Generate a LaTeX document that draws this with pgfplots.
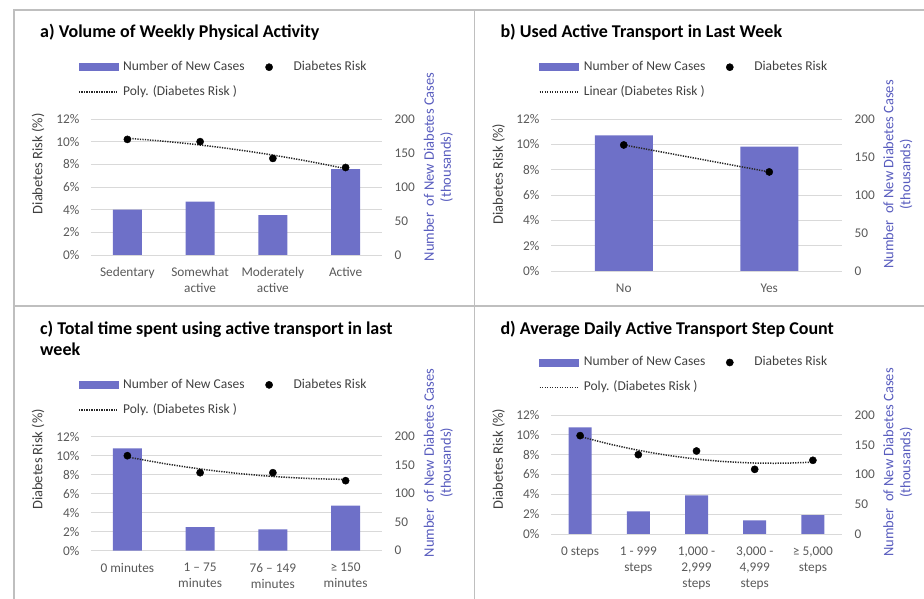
\documentclass[border=0pt]{standalone}
\usepackage{pgfplots}
\pgfplotsset{compat=1.18}
\usepackage{fontspec}
\setmainfont{Carlito}
\definecolor{barc}{RGB}{110,112,200}
\definecolor{rlab}{RGB}{88,92,190}
\definecolor{tickc}{RGB}{89,89,89}
\definecolor{labc}{RGB}{64,64,64}
\definecolor{gridc}{RGB}{217,217,217}
\definecolor{framec}{RGB}{191,191,191}
\definecolor{trendc}{RGB}{40,40,40}
\pgfplotsset{
  base/.style={scale only axis, width=291pt, axis line style={draw=none}, major tick length=0pt,
    xmin=-0.5, /pgf/number format/assume math mode=true,
    tick label style={font=\fontsize{13.3}{16}\selectfont, text=tickc},
    label style={font=\fontsize{14.5}{17}\selectfont},
    clip=false},
  leftax/.style={base, ymin=0, ymax=12, ytick={0,2,...,12},
    yticklabel={\pgfmathprintnumber{\tick}\%},
    ymajorgrids, grid style={gridc, line width=0.9pt},
    yticklabel style={xshift=-8pt},
    xticklabel style={align=center, anchor=north, yshift=-9pt},
    ylabel={Diabetes Risk (\%)}, ylabel style={text=labc, anchor=center}},
  rightax/.style={base, axis y line*=right, axis x line=none, xtick=\empty,
    ymin=0, ymax=200, ytick={0,50,...,200},
    yticklabel style={xshift=9pt},
    ylabel={Number\ \ of New Diabetes Cases\\(thousands)},
    ylabel style={align=center, text=rlab, anchor=center}},
  overax/.style={base, hide axis, ymin=0, ymax=12, legend columns=2, legend cell align=left,
    legend style={draw=none, fill=none, inner sep=0pt, anchor=north west, row sep=12.5pt,
      font=\fontsize{13.5}{16}\selectfont, text=labc,
      nodes={inner sep=0pt, text height=9.5pt, text depth=3pt},
      /tikz/every odd column/.append style={column sep=5pt},
      /tikz/every even column/.append style={column sep=5pt}}},
  bars/.style={ybar, fill=barc, draw=none},
  barleg/.style={legend image code/.code={\fill[barc] (0pt,-3.5pt) rectangle (39pt,3.5pt);}},
  dots/.style={only marks, mark=*, mark size=3.6pt, color=black, mark options={fill=black}},
  dotleg/.style={legend image code/.code={\path[draw=none,fill=none] (0pt,-0.1pt) rectangle (39pt,0.1pt); \fill[black] (19.5pt,0pt) circle (3.6pt);}},
  trend/.style={smooth, color=trendc, line width=1.5pt, dash pattern=on 1.3pt off 1.2pt},
  trendleg/.style={legend image code/.code={\draw[trendc, line width=1.5pt, dash pattern=on 1.3pt off 1.2pt] (0pt,0pt) -- (38pt,0pt);}},
}
\begin{document}
\begin{tikzpicture}
\path[use as bounding box] (0pt,0pt) rectangle (924pt,599pt);
\draw[framec, line width=1.3pt] (14pt,0pt) -- (14pt,589pt) -- (924pt,589pt);
\draw[framec, line width=1.3pt] (474.3pt,0pt) -- (474.3pt,589pt);
\draw[framec, line width=1.3pt] (14pt,293pt) -- (924pt,293pt);
\begin{scope}[every node/.style={anchor=base west, inner sep=0pt, font=\bfseries\fontsize{18}{22}\selectfont}]
\node at (40pt,561.3pt) {a) Volume of Weekly Physical Activity};
\node at (500.3pt,561.3pt) {b) Used Active Transport in Last Week};
\node at (40pt,264.7pt) {c) Total time spent using active transport in last};
\node at (40pt,243pt) {week};
\node at (500.3pt,264.7pt) {d) Average Daily Active Transport Step Count};
\end{scope}

% ---------- panel a ----------
\begin{axis}[leftax, at={(91pt,344pt)}, anchor=south west, height=136pt, xmax=3.5,
  xtick={0,1,2,3}, xticklabels={Sedentary,{Somewhat\\active},{Moderately\\active},Active},
  ylabel style={at={(axis description cs:-0.182,0.67)}}]
\end{axis}
\begin{axis}[rightax, at={(91pt,344pt)}, anchor=south west, height=136pt, xmax=3.5,
  ylabel style={at={(axis description cs:1.194,0.647)}}]
\addplot[bars, bar width=29pt] coordinates {(0,66.8) (1,78.6) (2,58.5) (3,126.3)};
\end{axis}
\begin{axis}[overax, at={(91pt,344pt)}, anchor=south west, height=136pt, xmax=3.5,
  legend style={at={(axis description cs:-0.0447,1.4283)}}]
\addlegendimage{barleg}\addlegendentry{Number of New Cases}
\addlegendimage{dotleg}\addlegendentry{Diabetes Risk}
\addlegendimage{trendleg}\addlegendentry{Poly. (Diabetes Risk )}
\addplot[trend, forget plot] coordinates {(0,10.298) (0.5,10.04) (1,9.706) (1.5,9.298) (2,8.814) (2.5,8.256) (3,7.622)};
\addplot[dots, forget plot] coordinates {(0,10.2) (1,10.0) (2,8.52) (3,7.72)};
\end{axis}

% ---------- panel b ----------
\begin{axis}[leftax, at={(551pt,328pt)}, anchor=south west, height=152pt, xmax=1.5,
  xtick={0,1}, xticklabels={No,Yes},
  ylabel style={at={(axis description cs:-0.18,0.638)}}]
\end{axis}
\begin{axis}[rightax, at={(551pt,328pt)}, anchor=south west, height=152pt, xmax=1.5,
  ylabel style={at={(axis description cs:1.192,0.635)}}]
\addplot[bars, bar width=58pt] coordinates {(0,178.5) (1,163.6)};
\end{axis}
\begin{axis}[overax, at={(551pt,328pt)}, anchor=south west, height=152pt, xmax=1.5,
  legend style={at={(axis description cs:-0.0423,1.3832)}}]
\addlegendimage{barleg}\addlegendentry{Number of New Cases}
\addlegendimage{dotleg}\addlegendentry{Diabetes Risk}
\addlegendimage{trendleg}\addlegendentry{Linear (Diabetes Risk )}
\addplot[trend, forget plot] coordinates {(0,9.95) (1,7.82)};
\addplot[dots, forget plot] coordinates {(0,9.95) (1,7.82)};
\end{axis}

% ---------- panel c ----------
\begin{axis}[leftax, at={(91pt,48.3pt)}, anchor=south west, height=114pt, xmax=3.5,
  xtick={0,1,2,3}, xticklabels={{0 minutes},{1 – 75\\minutes},{76 – 149\\minutes},{≥ 150\\minutes}},
  ylabel style={at={(axis description cs:-0.182,0.80)}}]
\end{axis}
\begin{axis}[rightax, at={(91pt,48.3pt)}, anchor=south west, height=114pt, xmax=3.5,
  ylabel style={at={(axis description cs:1.194,0.77)}}]
\addplot[bars, bar width=29pt] coordinates {(0,179.5) (1,41.5) (2,37.4) (3,78.9)};
\end{axis}
\begin{axis}[overax, at={(91pt,48.3pt)}, anchor=south west, height=114pt, xmax=3.5,
  legend style={at={(axis description cs:-0.0447,1.511)}}]
\addlegendimage{barleg}\addlegendentry{Number of New Cases}
\addlegendimage{dotleg}\addlegendentry{Diabetes Risk}
\addlegendimage{trendleg}\addlegendentry{Poly. (Diabetes Risk )}
\addplot[trend, forget plot] coordinates {(0,9.869) (0.5,9.177) (1,8.605) (1.5,8.151) (2,7.816) (2.5,7.599) (3,7.502)};
\addplot[dots, forget plot] coordinates {(0,10.0) (1,8.21) (2,8.21) (3,7.37)};
\end{axis}

% ---------- panel d ----------
\begin{axis}[leftax, at={(551pt,65pt)}, anchor=south west, height=119pt, xmax=4.5,
  xtick={0,1,2,3,4}, xticklabels={{0 steps},{1 - 999\\steps},{1,000 -\\2,999\\steps},{3,000 -\\4,999\\steps},{≥ 5,000\\steps}},
  ylabel style={at={(axis description cs:-0.18,0.63)}}]
\end{axis}
\begin{axis}[rightax, at={(551pt,65pt)}, anchor=south west, height=119pt, xmax=4.5,
  ylabel style={at={(axis description cs:1.192,0.60)}}]
\addplot[bars, bar width=23pt] coordinates {(0,179.3) (1,38.1) (2,65) (3,23) (4,31.9)};
\end{axis}
\begin{axis}[overax, at={(551pt,65pt)}, anchor=south west, height=119pt, xmax=4.5,
  legend style={at={(axis description cs:-0.0423,1.4954)}}]
\addlegendimage{barleg}\addlegendentry{Number of New Cases}
\addlegendimage{dotleg}\addlegendentry{Diabetes Risk}
\addlegendimage{trendleg}\addlegendentry{Poly. (Diabetes Risk )}
\addplot[trend, forget plot] coordinates {(0,9.831) (0.5,9.078) (1,8.448) (1.5,7.941) (2,7.557) (2.5,7.295) (3,7.156) (3.5,7.140) (4,7.247)};
\addplot[dots, forget plot] coordinates {(0,9.92) (1,8.0) (2,8.37) (3,6.52) (4,7.43)};
\end{axis}
\end{tikzpicture}
\end{document}
